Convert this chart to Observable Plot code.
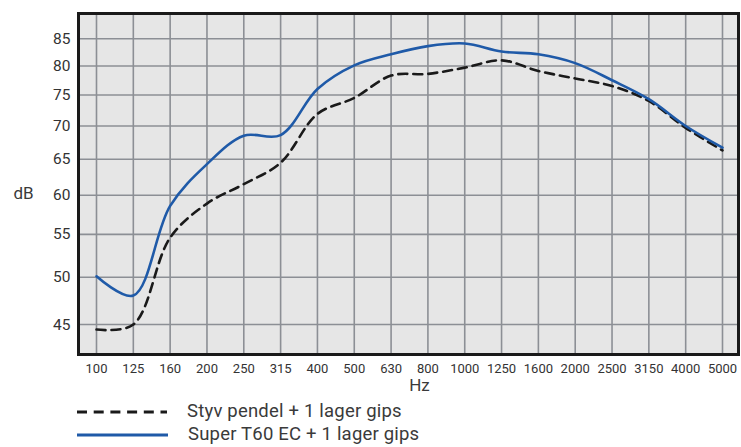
<!DOCTYPE html>
<html>
<head>
<meta charset="utf-8">
<script src="https://cdn.jsdelivr.net/npm/d3@7"></script>
<script src="https://cdn.jsdelivr.net/npm/@observablehq/plot@0.6"></script>
<style>
  html, body { margin: 0; padding: 0; background: #fff; }
  #wrap { width: 741px; font-family: Roboto, "Noto Sans", sans-serif; color: #3a3a3a; }
  .legend { margin-top: 0px; }
  .row { display: flex; align-items: center; height: 23px; font-size: 18.5px; letter-spacing: 0.2px; line-height: 23px; }
  .row svg { margin-left: 77px; margin-right: 20px; }
</style>
</head>
<body>
<div id="wrap"></div>
<script>
const bands = ["100","125","160","200","250","315","400","500","630","800","1000","1250","1600","2000","2500","3150","4000","5000"];
const yTicks = [45, 50, 55, 60, 65, 70, 75, 80, 85];
const styvName = "Styv pendel + 1 lager gips";
const superName = "Super T60 EC + 1 lager gips";
const styv = [44.5, 45.0, 54.6, 58.9, 61.5, 64.5, 71.9, 74.5, 78.3, 78.6, 79.7, 81.0, 79.1, 77.8, 76.5, 74.0, 69.7, 66.3];
const superT60 = [50.1, 48.0, 58.6, 64.3, 68.5, 68.6, 76.0, 80.1, 82.1, 83.6, 84.1, 82.6, 82.1, 80.5, 77.5, 74.3, 70.0, 66.7];

const styvRows = bands.map((b, i) => ({band: b, value: styv[i]}));
const superRows = bands.map((b, i) => ({band: b, value: superT60[i]}));

const gridColor = "#8c8f95";
const blue = "#1f5aa8";

const chart = Plot.plot({
  width: 741,
  height: 400,
  marginLeft: 78,
  marginRight: 3,
  marginTop: 13,
  marginBottom: 46,
  style: {fontFamily: "Roboto, 'Noto Sans', sans-serif", background: "white", color: "#333"},
  x: {type: "point", domain: bands, range: [96, 722], padding: 0, round: false},
  y: {type: "log", domain: [42.1, 89.9]},
  marks: [
    Plot.frame({fill: "#e6e6e6", stroke: null}),
    Plot.ruleX(bands, {x: d => d, stroke: gridColor, strokeWidth: 1.6}),
    Plot.ruleY(yTicks, {y: d => d, stroke: gridColor, strokeWidth: 1.6}),
    Plot.line(styvRows, {x: "band", y: "value", curve: "catmull-rom", stroke: "#1a1a1a", strokeWidth: 2.6, strokeDasharray: "9,6"}),
    Plot.line(superRows, {x: "band", y: "value", curve: "catmull-rom", stroke: blue, strokeWidth: 2.6}),
    Plot.frame({stroke: "#1a1a1a", strokeWidth: 3}),
    Plot.axisX({tickSize: 0, tickPadding: 9, fontSize: 13, label: null}),
    Plot.axisY({ticks: yTicks, tickFormat: d => d, tickSize: 0, tickPadding: 8, fontSize: 15.5, label: null}),
    Plot.text(["Hz"], {text: d => d, frameAnchor: "bottom", dx: 11, dy: 36, fontSize: 17, fill: "#3a3a3a"}),
    Plot.text(["dB"], {text: d => d, frameAnchor: "left", dx: -55, dy: 9.5, fontSize: 17, fill: "#3a3a3a", textAnchor: "middle"})
  ]
});

const wrap = document.getElementById("wrap");
wrap.appendChild(chart);

const legend = document.createElement("div");
legend.className = "legend";
legend.innerHTML = `
  <div class="row"><svg width="90" height="6"><line x1="0" x2="90" y1="3" y2="3" stroke="#1a1a1a" stroke-width="3" stroke-dasharray="10,6.7"/></svg><span>${styvName}</span></div>
  <div class="row"><svg width="91" height="6"><line x1="0" x2="91" y1="3" y2="3" stroke="${blue}" stroke-width="3"/></svg><span>${superName}</span></div>`;
wrap.appendChild(legend);
</script>
</body>
</html>
